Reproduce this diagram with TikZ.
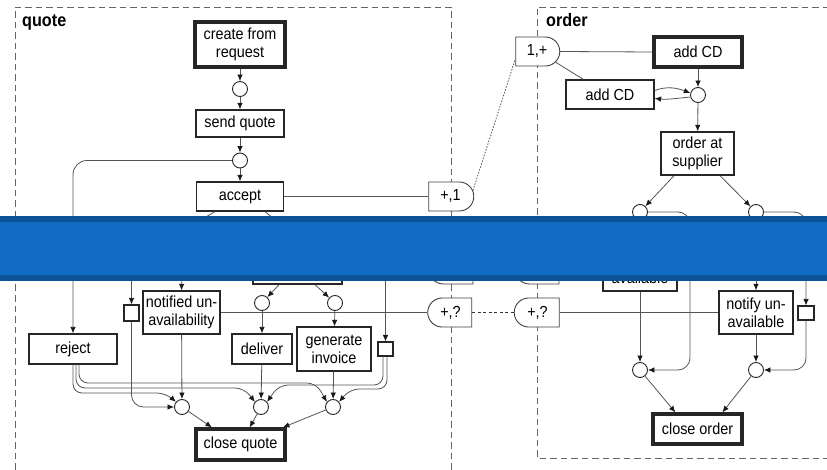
\documentclass[tikz,border=0pt]{standalone}
\usepackage{fontspec}
\setmainfont{Liberation Sans}[FakeStretch=0.9]
\usetikzlibrary{arrows.meta,shapes.misc,calc}
\definecolor{bandedge}{HTML}{0B5296}
\definecolor{bandmid}{HTML}{0F6CC2}
\definecolor{wire}{HTML}{555555}
\definecolor{frame}{HTML}{666666}

\begin{document}
\begin{tikzpicture}[x=1pt,y=-1pt,
  lbl/.style={font=\fontsize{16}{18}\selectfont},
  title/.style={font=\fontsize{18}{20}\selectfont\bfseries, inner sep=0pt},
  task/.style={draw=black!85, line width=1.3pt, fill=white, inner sep=0pt, align=center, lbl},
  keytask/.style={task, line width=3.2pt},
  place/.style={circle, draw=black!85, line width=0.9pt, fill=white, minimum size=15pt, inner sep=0pt},
  sq/.style={draw=black!85, line width=1.1pt, fill=white, minimum width=15pt, minimum height=15pt, inner sep=0pt},
  gatel/.style={rounded rectangle, rounded rectangle right arc=none, draw=black!75, line width=0.9pt, fill=white, minimum height=29pt, minimum width=44pt, inner sep=0pt, lbl},
  gater/.style={rounded rectangle, rounded rectangle left arc=none, draw=black!75, line width=0.9pt, fill=white, minimum height=29pt, minimum width=45pt, inner sep=0pt, lbl},
  conn/.style={draw=wire, line width=0.8pt, -{Latex[length=6.5pt,width=5.5pt,color=black!90]}},
  link/.style={draw=wire, line width=0.8pt},
  frameline/.style={draw=frame, line width=0.9pt, dash pattern=on 6.5pt off 4pt},
]
\useasboundingbox (0,0) rectangle (827,470);
\clip (0,0) rectangle (827,470);
\fill[white] (0,0) rectangle (827,470);

% pool frames
\draw[frameline] (15,480) -- (15,7) -- (451,7) -- (451,480);
\draw[frameline] (840,458) -- (537,458) -- (537,7) -- (840,7);
\node[title, anchor=base west] (tq) at (22,27) {quote};
\node[title, anchor=base west] (to) at (546,27) {order};

% quote process
\node[keytask, minimum width=90pt, minimum height=45pt] (create) at (240,44.5) {create from\\request};
\node[place] (p1) at (240,89) {};
\node[task, minimum width=88pt, minimum height=27pt] (send) at (240,123.5) {send quote};
\node[place] (p2) at (240,160.5) {};
\node[task, minimum width=87pt, minimum height=29pt] (accept) at (240,196.5) {accept};
\node[gater] (g1) at (450.5,196.5) {+,1};
\node[task, minimum width=88pt, minimum height=30pt] (reject) at (73,349) {reject};
\node[sq, minimum height=16pt] (sqL) at (131.5,313) {};
\node[task, minimum width=77pt, minimum height=43pt] (notified) at (181.5,312.5) {notified un-\\availability};
\node[task, minimum width=89pt, minimum height=30pt] (hidA) at (297.5,269) {};
\node[place] (c4) at (262,303) {};
\node[place] (c5) at (335,303) {};
\node[task, minimum width=60pt, minimum height=30pt] (deliver) at (262,349) {deliver};
\node[task, minimum width=74pt, minimum height=44pt] (invoice) at (334,349) {generate\\invoice};
\node[sq, minimum height=14pt] (sqR) at (385.5,349) {};
\node[place] (c1) at (182,407) {};
\node[place] (c2) at (261,407) {};
\node[place] (c3) at (333,407) {};
\node[keytask, minimum width=89pt, minimum height=31pt] (closeq) at (240.5,444.5) {close quote};
\node[gatel] (hidG1) at (451,269.5) {};
\node[gatel] (qg) at (450.5,312.5) {+,?};

% order process
\node[gater, minimum width=44pt] (g2) at (537,51.5) {1,+};
\node[keytask, minimum width=88pt, minimum height=30pt] (addA) at (698,52) {add CD};
\node[task, minimum width=88pt, minimum height=29pt] (addB) at (610,94.5) {add CD};
\node[place] (po1) at (698,95) {};
\node[task, minimum width=73pt, minimum height=43pt] (supplier) at (697.5,153.5) {order at\\supplier};
\node[place] (po2) at (640,212) {};
\node[place] (po3) at (756,212) {};
\node[task, minimum width=74pt, minimum height=43pt] (avail) at (640,269.5) {\vphantom{A}\\available};
\node[task, minimum width=74pt, minimum height=43pt] (notifyun) at (756,312.5) {notify un-\\available};
\node[sq, minimum width=16pt, minimum height=14pt] (sqO) at (806,313) {};
\node[place] (po4) at (640,370) {};
\node[place] (po5) at (756,370) {};
\node[keytask, minimum width=89pt, minimum height=30pt] (closeo) at (697.5,429) {close order};
\node[gatel] (hidG2) at (537,269.5) {};
\node[gatel, minimum width=45pt] (og) at (537.5,312.5) {+,?};

% free ends of the arcs leaving accept
\coordinate (ha) at (187,228);
\coordinate (hb) at (285,228);
\coordinate (fa) at (182,270);
\coordinate (fb) at (131.5,270);
\coordinate (fc) at (385.5,270);

% quote arcs
\draw[conn] (create) -- (p1);
\draw[conn] (p1) -- (send);
\draw[conn] (send) -- (p2);
\draw[conn] (p2) -- (accept);
\draw[conn, rounded corners=14pt] (p2.west) -| (reject.north);
\draw[link] (accept.east) -- (g1.west);
\draw[link] ($(accept.south)+(-25,0)$) -- (ha);
\draw[link] ($(accept.south)+(25,0)$) -- (hb);
\draw[conn] (fa) -- (notified.north);
\draw[conn] (fb) -- (sqL.north);
\draw[conn] (fc) -- (sqR.north);
\draw[conn] ($(hidA.south)+(-18.5,0)$) -- (c4);
\draw[conn] ($(hidA.south)+(17.5,0)$) -- (c5);
\draw[conn] (c4) -- (deliver);
\draw[conn] (c5) -- (invoice);
\draw[link] (notified.east) -- (qg.west);
\draw[conn, rounded corners=12pt] (sqL.south) |- (c1.west);
\draw[conn] (notified) -- (c1);
\draw[conn] (deliver) -- (c2);
\draw[conn] (invoice) -- (c3);
\draw[conn, rounded corners=9pt] ($(reject.south)+(0,0)$) -- (73,393) -- (166,393) -- (c1.140);
\draw[conn, rounded corners=9pt] ($(reject.south)+(3,0)$) -- (76,388) -- (244,388) -- (c2.140);
\draw[conn, rounded corners=9pt] ($(reject.south)+(6,0)$) -- (79,383) -- (316,383) -- (c3.140);
\draw[conn, rounded corners=9pt] ($(sqR.south)+(-2.5,0)$) -- (383,385) -- (279,385) -- (c2.40);
\draw[conn, rounded corners=9pt] ($(sqR.south)+(1.5,0)$) -- (387,389) -- (350,389) -- (c3.40);
\draw[conn] (c1) -- ($(closeq.north west)!0.19!(closeq.north east)$);
\draw[conn] (c2) -- ($(closeq.north west)!0.6!(closeq.north east)$);
\draw[conn] (c3) -- ($(closeq.north west)!0.96!(closeq.north east)$);

% links between the processes
\draw[link, dash pattern=on 1.5pt off 1.5pt] (g1.15) -- ($(g2.west)!0.5!(g2.south west)$);
\draw[link, draw=black!80, dash pattern=on 3pt off 2.5pt] (qg.east) -- (og.west);

% order arcs
\draw[link] (g2.east) -- (addA.west);
\draw[link] (g2.-30) -- ($(addB.north west)+(18,0)$);
\draw[conn] (addA) -- (po1);
\draw[conn] ($(addB.east)+(0,-4)$) to[out=20,in=160] (po1.165);
\draw[conn] (po1.195) to[out=185,in=-5] ($(addB.east)+(0,4)$);
\draw[conn] (po1) -- (supplier);
\draw[conn] ($(supplier.south)+(-23.5,0)$) -- (po2);
\draw[conn] ($(supplier.south)+(22.5,0)$) -- (po3);
\draw[conn, rounded corners=12pt] (po2.east) -- (690,212) -- (690,370) -- (po4.east);
\draw[conn, rounded corners=12pt] (po3.east) -| (sqO.north);
\draw[conn] (po3) -- (notifyun);
\draw[conn, rounded corners=12pt] (sqO.south) |- (po5.east);
\draw[conn] (avail) -- (po4);
\draw[conn] (notifyun) -- (po5);
\draw[link] (og.east) -- (notifyun.west);
\draw[conn] (po4) -- ($(closeo.north west)!0.26!(closeo.north east)$);
\draw[conn] (po5) -- ($(closeo.north west)!0.77!(closeo.north east)$);

% banner across the middle
\fill[bandedge] (0,216) rectangle (827,281);
\fill[bandmid] (0,222) rectangle (827,275.5);
\end{tikzpicture}
\end{document}
